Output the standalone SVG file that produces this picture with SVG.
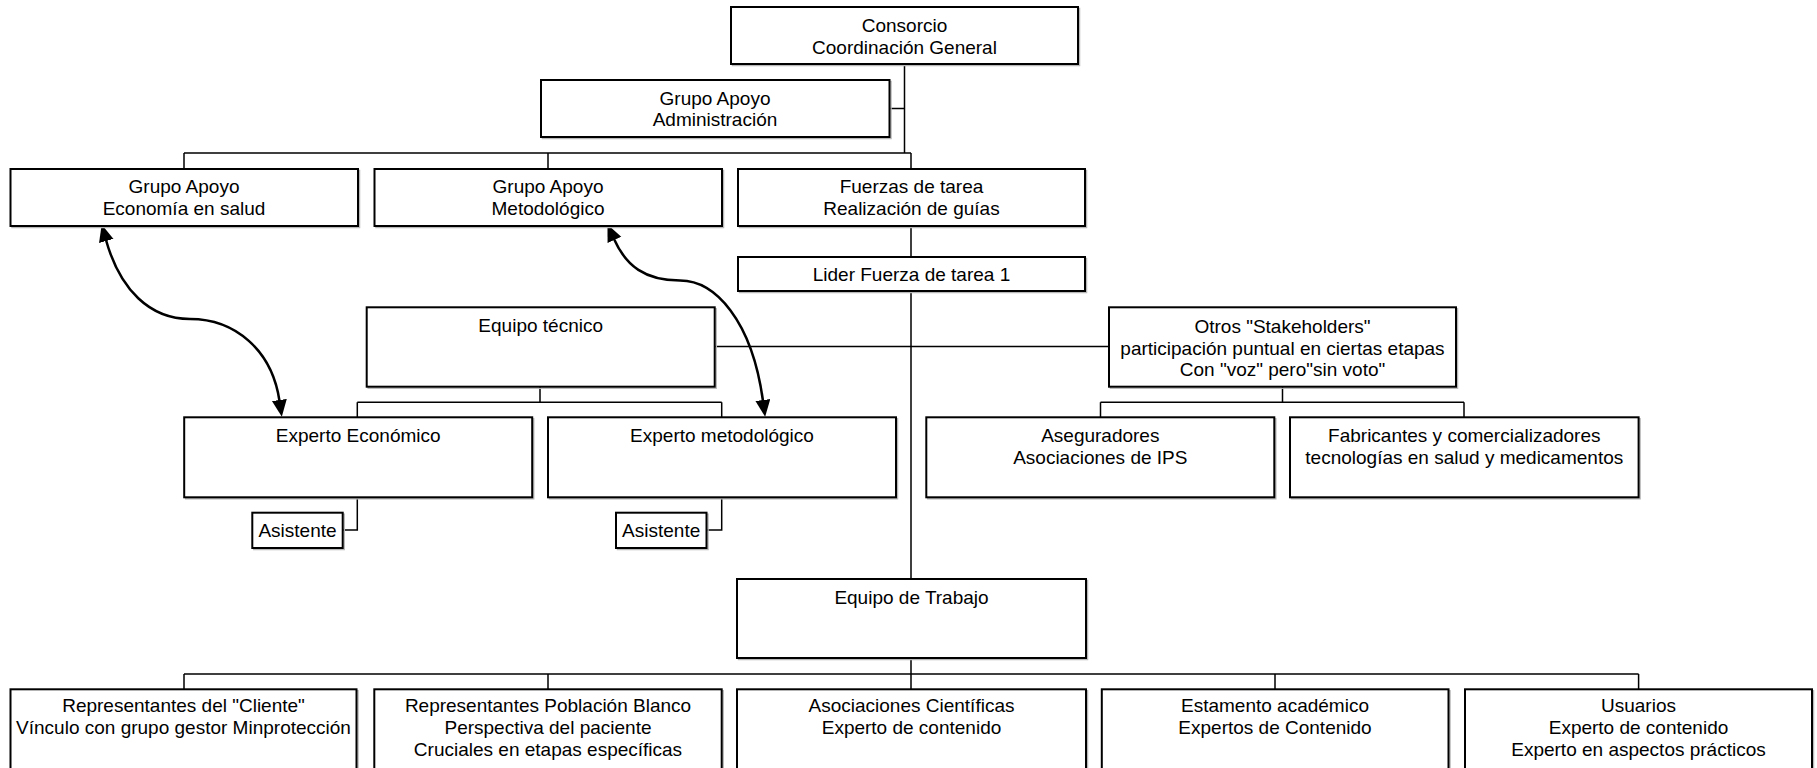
<svg xmlns="http://www.w3.org/2000/svg" width="1817" height="768" viewBox="0 0 1817 768">
<style>
  .box rect.s { fill: none; stroke: #b8b8b8; stroke-width: 1.5; }
  .box rect.b { fill: #fff; stroke: #000; stroke-width: 2; }
  .box text { font-family: "Liberation Sans", Arial, sans-serif; font-size: 19px; fill: #000; text-anchor: middle; }
  #connectors path.c { fill: none; stroke: #000; stroke-width: 1.5; }
  #connectors path.a { fill: none; stroke: #000; stroke-width: 2.5; marker-start: url(#ah); marker-end: url(#ah); }
</style>
<defs>
  <marker id="ah" markerUnits="userSpaceOnUse" markerWidth="18" markerHeight="16" viewBox="0 0 18 16" refX="1" refY="7.5" orient="auto-start-reverse">
    <path d="M0,0 L17,7.5 L0,15 z" fill="#000"/>
  </marker>
</defs>
<rect x="0" y="0" width="1817" height="768" fill="#fff"/>

<g id="connectors">
  <path class="c" d="M904.5,64 V153 M889.5,108.5 H904.5"/>
  <path class="c" d="M184,153 H911 M184,153 V169 M548,153 V169 M911,153 V169"/>
  <path class="c" d="M911,226 V257 M911,291 V579"/>
  <path class="c" d="M714.7,346.5 H1109"/>
  <path class="c" d="M540,387 V402.3 M357.3,402.3 H721.7 M357.3,402.3 V417.3 M721.7,402.3 V417.3"/>
  <path class="c" d="M357.3,497.3 V530 H342.7 M721.7,497.3 V530 H706.5"/>
  <path class="c" d="M1282.5,387 V402.3 M1100.5,402.3 H1464 M1100.5,402.3 V417.3 M1464,402.3 V417.3"/>
  <path class="c" d="M911,658 V674 M184,674 H1638.6 M184,674 V689.3 M548,674 V689.3 M911,674 V689.3 M1275,674 V689.3 M1638.6,674 V689.3"/>
  <path class="a" d="M106,240 C120,290 150,319 190,319 C235,319 272,350 279.5,401"/>
  <path class="a" d="M614,239 C626,266 645,280.5 680,280.5 C715,280.5 752,320 763,401"/>
</g>

<g id="consorcio" class="box">
  <rect class="s" x="732.5" y="8.5" width="347" height="57"/>
  <rect class="b" x="731" y="7" width="347" height="57"/>
  <text x="904.5" y="32">Consorcio</text>
  <text x="904.5" y="54">Coordinación General</text>
</g>
<g id="apoyo-admin" class="box">
  <rect class="s" x="542.5" y="81.5" width="348.5" height="57"/>
  <rect class="b" x="541" y="80" width="348.5" height="57"/>
  <text x="715" y="105">Grupo Apoyo</text>
  <text x="715" y="126">Administración</text>
</g>
<g id="apoyo-economia" class="box">
  <rect class="s" x="12" y="170.5" width="347.5" height="57"/>
  <rect class="b" x="10.5" y="169" width="347.5" height="57"/>
  <text x="184" y="193">Grupo Apoyo</text>
  <text x="184" y="215">Economía en salud</text>
</g>
<g id="apoyo-metodologico" class="box">
  <rect class="s" x="376" y="170.5" width="347.5" height="57"/>
  <rect class="b" x="374.5" y="169" width="347.5" height="57"/>
  <text x="548" y="193">Grupo Apoyo</text>
  <text x="548" y="215">Metodológico</text>
</g>
<g id="fuerzas" class="box">
  <rect class="s" x="739.5" y="170.5" width="347" height="57"/>
  <rect class="b" x="738" y="169" width="347" height="57"/>
  <text x="911.5" y="193">Fuerzas de tarea</text>
  <text x="911.5" y="215">Realización de guías</text>
</g>
<g id="lider" class="box">
  <rect class="s" x="739.5" y="258.5" width="347" height="34"/>
  <rect class="b" x="738" y="257" width="347" height="34"/>
  <text x="911.5" y="281">Lider Fuerza de tarea 1</text>
</g>
<g id="equipo-tecnico" class="box">
  <rect class="s" x="368.2" y="308.8" width="348" height="79.4"/>
  <rect class="b" x="366.7" y="307.3" width="348" height="79.4"/>
  <text x="540.7" y="332">Equipo técnico</text>
</g>
<g id="otros" class="box">
  <rect class="s" x="1110.5" y="308.8" width="347" height="79.4"/>
  <rect class="b" x="1109" y="307.3" width="347" height="79.4"/>
  <text x="1282.5" y="332.5">Otros "Stakeholders"</text>
  <text x="1282.5" y="354.5">participación puntual en ciertas etapas</text>
  <text x="1282.5" y="376">Con "voz" pero"sin voto"</text>
</g>
<g id="experto-economico" class="box">
  <rect class="s" x="185.7" y="418.8" width="348" height="80"/>
  <rect class="b" x="184.2" y="417.3" width="348" height="80"/>
  <text x="358.2" y="442">Experto Económico</text>
</g>
<g id="experto-metodologico" class="box">
  <rect class="s" x="549.5" y="418.8" width="348" height="80"/>
  <rect class="b" x="548" y="417.3" width="348" height="80"/>
  <text x="722" y="442">Experto metodológico</text>
</g>
<g id="asistente-1" class="box">
  <rect class="s" x="253.8" y="514.2" width="90.4" height="35.3"/>
  <rect class="b" x="252.3" y="512.7" width="90.4" height="35.3"/>
  <text x="297.5" y="537">Asistente</text>
</g>
<g id="asistente-2" class="box">
  <rect class="s" x="617.5" y="514.2" width="90.5" height="35.3"/>
  <rect class="b" x="616" y="512.7" width="90.5" height="35.3"/>
  <text x="661.2" y="537">Asistente</text>
</g>
<g id="aseguradores" class="box">
  <rect class="s" x="927.8" y="418.8" width="348" height="80"/>
  <rect class="b" x="926.3" y="417.3" width="348" height="80"/>
  <text x="1100.3" y="442">Aseguradores</text>
  <text x="1100.3" y="464">Asociaciones de IPS</text>
</g>
<g id="fabricantes" class="box">
  <rect class="s" x="1291.5" y="418.8" width="348.6" height="80"/>
  <rect class="b" x="1290" y="417.3" width="348.6" height="80"/>
  <text x="1464.3" y="442">Fabricantes y comercializadores</text>
  <text x="1464.3" y="464">tecnologías en salud y medicamentos</text>
</g>
<g id="equipo-trabajo" class="box">
  <rect class="s" x="738.5" y="580.5" width="349" height="79"/>
  <rect class="b" x="737" y="579" width="349" height="79"/>
  <text x="911.5" y="603.5">Equipo de Trabajo</text>
</g>
<g id="representantes-cliente" class="box">
  <rect class="s" x="12" y="690.8" width="346" height="90"/>
  <rect class="b" x="10.5" y="689.3" width="346" height="90"/>
  <text x="183.5" y="712">Representantes del "Cliente"</text>
  <text x="183.5" y="733.5">Vínculo con grupo gestor Minprotección</text>
</g>
<g id="representantes-poblacion" class="box">
  <rect class="s" x="375.8" y="690.8" width="347.4" height="90"/>
  <rect class="b" x="374.3" y="689.3" width="347.4" height="90"/>
  <text x="548" y="712">Representantes Población Blanco</text>
  <text x="548" y="733.5">Perspectiva del paciente</text>
  <text x="548" y="756">Cruciales en etapas específicas</text>
</g>
<g id="asociaciones" class="box">
  <rect class="s" x="738.5" y="690.8" width="349" height="90"/>
  <rect class="b" x="737" y="689.3" width="349" height="90"/>
  <text x="911.5" y="712">Asociaciones Científicas</text>
  <text x="911.5" y="733.5">Experto de contenido</text>
</g>
<g id="estamento" class="box">
  <rect class="s" x="1103.3" y="690.8" width="346.7" height="90"/>
  <rect class="b" x="1101.8" y="689.3" width="346.7" height="90"/>
  <text x="1275" y="712">Estamento académico</text>
  <text x="1275" y="733.5">Expertos de Contenido</text>
</g>
<g id="usuarios" class="box">
  <rect class="s" x="1466.5" y="690.8" width="347" height="90"/>
  <rect class="b" x="1465" y="689.3" width="347" height="90"/>
  <text x="1638.5" y="712">Usuarios</text>
  <text x="1638.5" y="733.5">Experto de contenido</text>
  <text x="1638.5" y="756">Experto en aspectos prácticos</text>
</g>
</svg>
